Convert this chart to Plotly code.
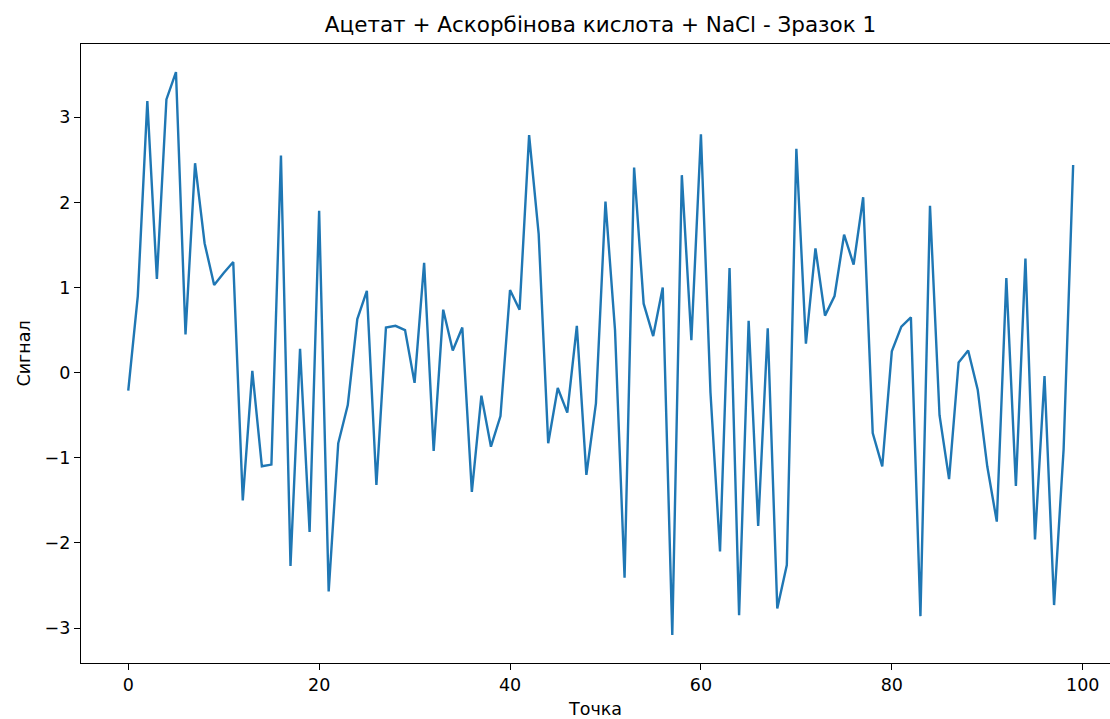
import plotly.graph_objects as go

# Signal trace: acetate + ascorbic acid + NaCl, sample 1
points = list(range(100))
signal = [
    -0.21, 0.90, 3.19, 1.10, 3.21, 3.53, 0.45, 2.46, 1.52, 1.03,
    1.17, 1.30, -1.50, 0.02, -1.10, -1.08, 2.55, -2.27, 0.28, -1.87,
    1.90, -2.57, -0.83, -0.38, 0.63, 0.96, -1.32, 0.53, 0.55, 0.50,
    -0.12, 1.29, -0.92, 0.74, 0.26, 0.53, -1.40, -0.27, -0.87, -0.51,
    0.97, 0.74, 2.79, 1.63, -0.83, -0.18, -0.47, 0.55, -1.20, -0.36,
    2.01, 0.50, -2.41, 2.41, 0.81, 0.43, 1.00, -3.08, 2.32, 0.38,
    2.80, -0.23, -2.10, 1.23, -2.85, 0.61, -1.80, 0.52, -2.77, -2.26,
    2.63, 0.34, 1.46, 0.67, 0.90, 1.62, 1.27, 2.06, -0.71, -1.10,
    0.25, 0.54, 0.65, -2.86, 1.96, -0.50, -1.25, 0.12, 0.26, -0.20,
    -1.10, -1.75, 1.11, -1.33, 1.34, -1.96, -0.04, -2.73, -0.90, 2.44,
]
x_ticks = [0, 20, 40, 60, 80, 100]
y_ticks = [-3, -2, -1, 0, 1, 2, 3]

title_text = "Ацетат + Аскорбінова кислота + NaCl - Зразок 1"
x_label = "Точка"
y_label = "Сигнал"

FONT = "DejaVu Sans"
TICK_PX = 17.5
TITLE_PX = 21.5

W, H = 1110, 719
LEFT, TOP, BOTTOM = 81, 44, 55.5
FULL_RIGHT = 1120.4   # where the axes box would end; the canvas stops at W


def padded(lo, hi, frac=0.05):
    span = hi - lo
    return [lo - frac * span, hi + frac * span]


# x window: same scale as the full padded axis, clipped at the canvas edge
x_lo, x_hi = padded(min(points), max(points))
x_range = [x_lo, x_lo + (x_hi - x_lo) * (W - LEFT) / (FULL_RIGHT - LEFT)]
y_range = padded(min(signal), max(signal))

fig = go.Figure()
fig.add_trace(go.Scatter(
    x=points, y=signal, mode="lines",
    line=dict(color="#1f77b4", width=2.4),
    showlegend=False, hoverinfo="skip",
))

axis_common = dict(
    showgrid=False, zeroline=False,
    showline=True, linecolor="black", linewidth=1.3,
    ticks="outside", ticklen=6, tickwidth=1.3, tickcolor="black",
    tickfont=dict(family=FONT, size=TICK_PX, color="black"),
)

fig.update_layout(
    width=W, height=H,
    margin=dict(l=LEFT, r=0, t=TOP, b=BOTTOM, pad=0),
    paper_bgcolor="white", plot_bgcolor="white",
    font=dict(family=FONT, color="black"),
    title=dict(
        text=title_text, x=(600.5 - LEFT) / (W - LEFT), xref="paper", xanchor="center",
        y=1 - 24 / H, yref="container", yanchor="middle",
        font=dict(family=FONT, size=TITLE_PX, color="black"),
    ),
    xaxis=dict(
        range=x_range,
        tickvals=x_ticks, ticktext=[str(v) for v in x_ticks],
        mirror=True,
        title=dict(text=x_label, font=dict(family=FONT, size=TICK_PX, color="black"), standoff=9),
        **axis_common,
    ),
    yaxis=dict(
        range=y_range,
        tickvals=y_ticks,
        mirror=False,
        title=dict(text=y_label, font=dict(family=FONT, size=TICK_PX, color="black"), standoff=9),
        **axis_common,
    ),
)

fig.write_html("out.html")
